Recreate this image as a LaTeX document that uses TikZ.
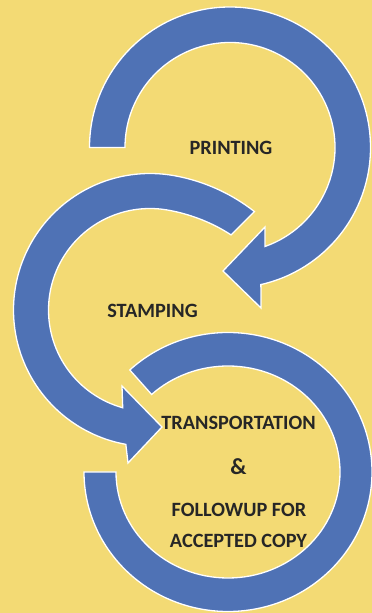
\documentclass[tikz,border=0pt]{standalone}
\usepackage{fontspec}
\setmainfont{Carlito}
\usetikzlibrary{calc}
\definecolor{bgyellow}{RGB}{243,218,116}
\definecolor{arrowblue}{RGB}{79,114,181}
\definecolor{textgray}{RGB}{38,38,38}
\begin{document}
\begin{tikzpicture}[x=1pt,y=1pt,
  declare function={ro(\t)=136.5+7*pow(max(0,(80-\t)/36.7),2);
                    ri(\t)=101.5+9*pow(max(0,(80-\t)/37.2),2);},
  ringarrow/.style={fill=arrowblue,draw=white,line width=1.3pt,line join=miter},
  lbl/.style={font=\fontsize{20.3}{24}\selectfont\bfseries,text=textgray,inner sep=0pt,anchor=base}]
\fill[bgyellow] (0,0) rectangle (372,613);
\useasboundingbox (0,0) rectangle (372,613);
% ---- ring 3 (no head)
\coordinate (c3) at (228,141);
\path[ringarrow] ($(c3)+(133:112 and 106)$) -- ($(c3)+(133:144 and 139.5)$)
  arc[start angle=133,end angle=-180,x radius=144,y radius=139.5]
  -- ($(c3)+(180:112 and 106)$)
  arc[start angle=-180,end angle=133,x radius=112,y radius=106] -- cycle;
% ---- ring 2
\coordinate (a2lb) at (128,150);
\coordinate (a2tip) at (162,186);
\coordinate (a2ub) at (122,227);
\path[ringarrow]
  plot[domain=43.3:259.8,samples=90,smooth] ({150+ro(\x)*cos(\x)},{303+ro(\x)*sin(\x)})
  -- (a2lb) -- (a2tip) -- (a2ub)
  -- plot[domain=254.4:42.8,samples=90,smooth] ({150+ri(\x)*cos(\x)},{303+ri(\x)*sin(\x)})
  -- cycle;
% ---- ring 1
\coordinate (c1) at (230,465.5);
\coordinate (a1lb) at (261,305);
\coordinate (a1tip) at (223,342);
\coordinate (a1ub) at (265,386);
\path[ringarrow] ($(c1)+(180:105)$) -- ($(c1)+(180:140.5)$)
  arc[start angle=180,end angle=-77.3,radius=140.5]
  -- (a1lb) -- (a1tip) -- (a1ub) -- ($(c1)+(-70.5:105)$)
  arc[start angle=-70.5,end angle=180,radius=105] -- cycle;
% ---- labels
\node[lbl] (printing) at (231,458) {PRINTING};
\node[lbl] (stamping) at (152.5,295) {STAMPING};
\node[lbl] (transp) at (238.5,183) {TRANSPORTATION};
\node[lbl,font=\fontsize{23}{26}\selectfont\bfseries] (amp) at (238.5,138) {\&};
\node[lbl] (follow) at (239,96) {FOLLOWUP FOR};
\node[lbl] (accepted) at (238.5,65) {ACCEPTED COPY};
\end{tikzpicture}
\end{document}
